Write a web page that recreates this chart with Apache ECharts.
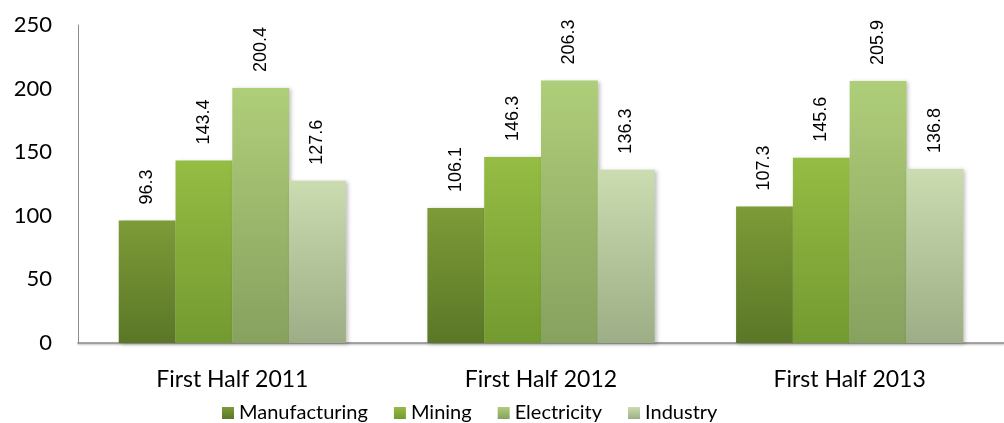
<!DOCTYPE html>
<html>
<head>
<meta charset="utf-8">
<script src="https://cdn.jsdelivr.net/npm/echarts@6/dist/echarts.min.js"></script>
<style>
  html, body { margin: 0; padding: 0; background: #fff; }
  #chart { width: 1004px; height: 423px; }
</style>
</head>
<body>
<div id="chart"></div>
<script>
// Periods on the category axis
const periods = ['First Half 2011', 'First Half 2012', 'First Half 2013'];

// Values per sector
const manufacturing = [96.3, 106.1, 107.3];
const mining = [143.4, 146.3, 145.6];
const electricity = [200.4, 206.3, 205.9];
const industry = [127.6, 136.3, 136.8];

// Value axis range
const yMin = 0;
const yMax = 250;
const yStep = 50;

const sectorNames = ['Manufacturing', 'Mining', 'Electricity', 'Industry'];
const sectorValues = [manufacturing, mining, electricity, industry];
// top / bottom colours of each bar's vertical gradient
const sectorColors = [
  ['#7d9b37', '#5a7727'],
  ['#95bc43', '#739a30'],
  ['#afce79', '#87a15f'],
  ['#cbdcb1', '#9dad85']
];

const textFont = 'Lato, "Open Sans", sans-serif';

const chart = echarts.init(document.getElementById('chart'), null, { renderer: 'canvas' });

const series = sectorNames.map((name, i) => ({
  name: name,
  type: 'bar',
  data: sectorValues[i],
  barGap: '0%',
  barCategoryGap: '26.4%',
  itemStyle: {
    color: new echarts.graphic.LinearGradient(0, 0, 0, 1, [
      { offset: 0, color: sectorColors[i][0] },
      { offset: 1, color: sectorColors[i][1] }
    ]),
    shadowColor: 'rgba(0,0,0,0.25)',
    shadowBlur: 4,
    shadowOffsetX: 2,
    shadowOffsetY: 1
  },
  label: {
    show: true,
    position: 'top',
    distance: 16,
    rotate: 90,
    align: 'left',
    verticalAlign: 'middle',
    fontFamily: '"Liberation Sans", Arial, sans-serif',
    fontSize: 18,
    color: '#000',
    formatter: p => p.value.toFixed(1)
  }
}));

chart.setOption({
  animation: false,
  backgroundColor: '#fff',
  grid: {
    left: 78,
    top: 25,
    width: 937,
    height: 318,
    containLabel: false
  },
  legend: {
    data: sectorNames.map((name, i) => ({
      name: name,
      itemStyle: {
        color: new echarts.graphic.LinearGradient(0, 0, 0, 1, [
          { offset: 0, color: sectorColors[i][0] },
          { offset: 1, color: sectorColors[i][1] }
        ])
      }
    })),
    left: 217,
    top: 398,
    icon: 'rect',
    itemWidth: 12,
    itemHeight: 12,
    itemGap: 26,
    textStyle: {
      fontFamily: textFont,
      fontSize: 20,
      color: '#000'
    }
  },
  xAxis: {
    type: 'category',
    data: periods,
    axisLine: { lineStyle: { color: '#8c8c8c', width: 1.5, shadowColor: 'rgba(0,0,0,0.3)', shadowBlur: 2, shadowOffsetY: 1 } },
    axisTick: { show: false },
    axisLabel: {
      fontFamily: textFont,
      fontSize: 23,
      color: '#000',
      margin: 25
    }
  },
  yAxis: {
    type: 'value',
    min: yMin,
    max: yMax,
    interval: yStep,
    axisLine: { show: true, lineStyle: { color: '#8c8c8c', width: 1 } },
    axisTick: { show: false },
    splitLine: { show: false },
    axisLabel: {
      fontFamily: textFont,
      fontSize: 22,
      color: '#000',
      margin: 26
    }
  },
  series: series
});
</script>
</body>
</html>
